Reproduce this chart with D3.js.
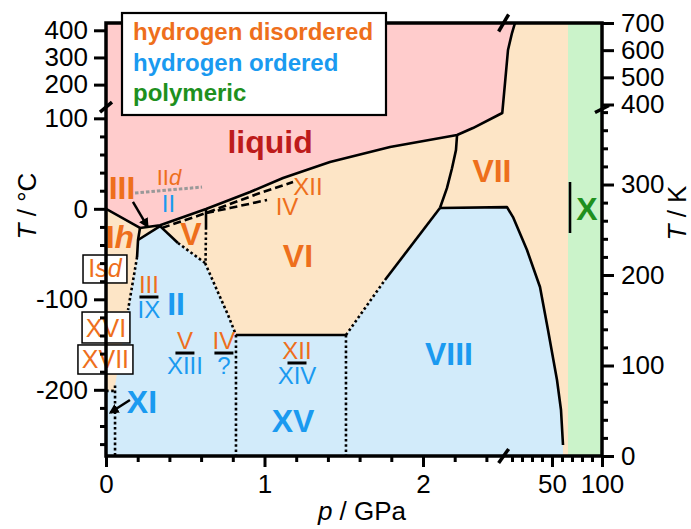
<!DOCTYPE html>
<html>
  <head>
    <title>Phase diagram of water ice</title>
    <script src="https://d3js.org/d3.v7.min.js" charset="utf-8"></script>
    <style>
      body { margin: 0; background: #fff; }
      text { font-family: "Liberation Sans", Arial, sans-serif; }
    </style>
  </head>
  <body>
    <script>
      // all boundaries in p (GPa), T (K)
      var liquidEdge = [[0,273.15],[0.2145,252],[0.341,255],[0.631,273],[0.909,291.7],[1.117,307.2],[1.413,324.9],
        [1.792,341.4],[2.215,354.7],[2.315,362.4],[2.5,379],[3,479],[6,600.6],[10,663],[13,700]];
      var orderedEdge = [[0,0],[0,72],[0.057,72],[0.057,78],[0.139,161.3],[0.196,219.9],[0.202,238.7],[0.341,254],
        [0.454,235.4],[0.625,213.3],[0.700,183.4],[0.770,155.8],[0.820,133.7],[1.514,133.7],[1.760,194.5],[2.107,274],
        [5,275],[11,264],[25,227.6],[38,186.7],[46,139.2],[55,84],[59,50.8],[61,12.2],[61,0]];
      var polymericP = [66, 100];

      var solidLines = [
        liquidEdge,
        [[0.2145,252],[0.202,238.7],[0.196,219.9]],
        [[0.202,238.7],[0.341,254]],
        [[0.341,254],[0.454,235.4]],
        [[0.631,273],[0.631,253]],
        [[0.82,133.7],[1.514,133.7]],
        [[1.760,194.5],[2.107,274]],
        [[2.107,274],[2.151,296],[2.183,318],[2.208,338],[2.215,354.7]],
        [[2.107,274],[5,275],[11,264],[25,227.6],[38,186.7],[46,139.2],[55,84],[59,50.8],[61,12.2]],
        [[68,302.8],[68,246.4]]
      ];
      var dottedLines = [
        [[0.196,219.9],[0.139,161.3]],
        [[0.454,235.4],[0.625,213.3]],
        [[0.631,253],[0.628,213.3]],
        [[0.625,213.3],[0.700,183.4],[0.770,155.8],[0.820,133.7]],
        [[0.82,133.7],[0.82,0]],
        [[1.514,133.7],[1.514,0]],
        [[1.514,133.7],[1.760,194.5]],
        [[0.057,78],[0.057,0]],
        [[0,72],[0.057,72]]
      ];
      var dashedLines = [
        [[0.353,252],[0.631,268.5],[0.782,278.5],[0.972,290.6],[1.18,302.8]],
        [[0.631,268.5],[0.782,274],[1.016,282.9]]
      ];
      var greyLine = [[0.183,290.6],[0.606,297.2]];

      var bigLabels = [
        {t: "liquid", p: 1.035, T: 334.8, k: "liquid"},
        {t: "VII", p: 2.435, T: 302.8, k: "dis"},
        {t: "VI", p: 1.211, T: 208.8, k: "dis"},
        {t: "V", p: 0.536, T: 233.1, k: "dis"},
        {t: "III", p: 0.101, T: 284, k: "dis"},
        {t: "II", p: 0.442, T: 155.8, k: "ord"},
        {t: "VIII", p: 2.164, T: 100.6, k: "ord"},
        {t: "XV", p: 1.18, T: 26.5, k: "ord"},
        {t: "XI", p: 0.227, T: 47.5, k: "ord"},
        {t: "X", p: 85, T: 260.8, k: "poly"}
      ];
      var smallLabels = [
        {t: "XII", p: 1.274, T: 288.4, k: "dis"},
        {t: "IV", p: 1.142, T: 266.3, k: "dis"},
        {t: "II", p: 0.394, T: 269.6, k: "ord"}
      ];
      var fractions = [
        {top: "III", bottom: "IX", p: 0.271, T: 175.7},
        {top: "V", bottom: "XIII", p: 0.498, T: 113.8},
        {top: "IV", bottom: "?", p: 0.744, T: 113.8},
        {top: "XII", bottom: "XIV", p: 1.205, T: 102.8}
      ];
      var boxed = [
        {parts: [["I", false], ["sd", true]], p0: -0.145, p1: 0.132, T0: 191.2, T1: 222.1},
        {parts: [["XVI", false]], p0: -0.151, p1: 0.151, T0: 124.9, T1: 159.1},
        {parts: [["XVII", false]], p0: -0.177, p1: 0.170, T0: 90.6, T1: 122.7}
      ];
      var arrows = [
        [[0.170, 280.7], [0.262, 253.5]],
        [[0.151, 61.9], [0.028, 48]]
      ];
      var legendItems = ["hydrogen disordered", "hydrogen ordered", "polymeric"];

      var cTicksMajor = [-200, -100, 0, 100, 200, 300, 400];
      var cTicksMinor = d3.range(-260, 100, 20).filter(function(v){ return v % 100 != 0; });
      var kTicksMajor = [0, 100, 200, 300, 400, 500, 600, 700];
      var kTicksMinor = d3.range(20, 400, 20).filter(function(v){ return v % 100 != 0; });
      var pLowMajor = [0, 1, 2], pLowMinor = [0.2, 0.4, 0.6, 0.8, 1.2, 1.4, 1.6, 1.8, 2.2, 2.4];
      var pHighMajor = [50, 100], pHighMinor = [10, 20, 30, 40, 60, 70, 80, 90];

      var col = {dis: "#EE6F1C", ord: "#1A9AF0", poly: "#1E901E", liquid: "#BD1B1B"};
      var fillCol = {tan: "#FDE5C6", pink: "#FFCCCC", blue: "#D2EBFA", green: "#CBF3CA"};

      var width = 691, height = 529;
      var svg = d3.select("body").append("svg").attr("width", width).attr("height", height);

      var xLow = d3.scaleLinear().domain([0, 2.5]).range([106, 502.25]);
      var xHigh = d3.scaleLinear().domain([3, 100]).range([505, 602]);
      function x(p) { return p <= 2.5 ? xLow(p) : xHigh(p); }
      var y = d3.scaleLinear().domain([0, 385, 400, 700]).range([456, 107.6, 104.5, 23]);
      var yC = d3.scaleLinear().domain(y.domain().map(function(k){ return k - 273.15; })).range(y.range());

      var L = xLow(0), R = xHigh(100), B = y(0), Tp = y(700);

      var line = d3.line().x(function(d){ return x(d[0]); }).y(function(d){ return y(d[1]); });

      var defs = svg.append("defs");
      defs.append("clipPath").attr("id", "plot").append("rect")
        .attr("x", L).attr("y", Tp).attr("width", R - L).attr("height", B - Tp);
      defs.append("marker").attr("id", "head").attr("viewBox", "0 0 10 10")
        .attr("refX", 8).attr("refY", 5).attr("markerWidth", 4).attr("markerHeight", 4)
        .attr("orient", "auto").append("path").attr("d", "M0,0L10,5L0,10z").attr("fill", "#000");

      var g = svg.append("g").attr("clip-path", "url(#plot)");

      // regions
      g.append("rect").attr("x", L).attr("y", Tp).attr("width", R - L).attr("height", B - Tp).attr("fill", fillCol.tan);
      g.append("path").attr("d", line(liquidEdge.concat([[0, 700]])) + "Z").attr("fill", fillCol.pink);
      g.append("path").attr("d", line(orderedEdge) + "Z").attr("fill", fillCol.blue);
      g.append("rect").attr("x", x(polymericP[0])).attr("y", Tp)
        .attr("width", x(polymericP[1]) - x(polymericP[0])).attr("height", B - Tp).attr("fill", fillCol.green);

      // boundaries
      g.selectAll("path.solid").data(solidLines).enter().append("path").attr("class", "solid")
        .attr("d", line).attr("fill", "none").attr("stroke", "#000").attr("stroke-width", 2.6)
        .attr("stroke-linejoin", "round");
      g.selectAll("path.dotted").data(dottedLines).enter().append("path").attr("class", "dotted")
        .attr("d", line).attr("fill", "none").attr("stroke", "#000").attr("stroke-width", 2.6)
        .attr("stroke-dasharray", "2.6,2.6");
      g.selectAll("path.dashed").data(dashedLines).enter().append("path").attr("class", "dashed")
        .attr("d", line).attr("fill", "none").attr("stroke", "#000").attr("stroke-width", 2.6)
        .attr("stroke-dasharray", "8,4");
      g.append("path").attr("d", line(greyLine)).attr("fill", "none").attr("stroke", "#999")
        .attr("stroke-width", 3).attr("stroke-dasharray", "3.5,2");

      function addText(parent, parts, px, py, size, weight, fill, anchor) {
        var t = parent.append("text").attr("x", px).attr("y", py).attr("font-size", size)
          .attr("font-weight", weight).attr("fill", fill).attr("text-anchor", anchor || "middle");
        parts.forEach(function(pt){ t.append("tspan").attr("font-style", pt[1] ? "italic" : "normal").text(pt[0]); });
        return t;
      }

      var lab = svg.append("g");
      bigLabels.forEach(function(d){
        addText(lab, [[d.t, false]], x(d.p), y(d.T), 32, "bold", col[d.k]);
      });
      addText(lab, [["I", false], ["h", true]], x(0.088), y(229.8), 32, "bold", col.dis);
      addText(lab, [["II", false], ["d", true]], x(0.397), y(299.4), 22, "normal", col.dis);
      smallLabels.forEach(function(d){
        addText(lab, [[d.t, false]], x(d.p), y(d.T), 24, "normal", col[d.k]);
      });
      fractions.forEach(function(d){
        var cx = x(d.p), cy = y(d.T);
        addText(lab, [[d.top, false]], cx, cy - 4, 24, "normal", col.dis);
        lab.append("line").attr("x1", cx - 9.5).attr("x2", cx + 9.5).attr("y1", cy).attr("y2", cy)
          .attr("stroke", "#000").attr("stroke-width", 3);
        addText(lab, [[d.bottom, false]], cx, cy + 21, 24, "normal", col.ord);
      });
      boxed.forEach(function(d){
        var x0 = x(d.p0), x1 = x(d.p1), y0 = y(d.T1), y1 = y(d.T0);
        lab.append("rect").attr("x", x0).attr("y", y0).attr("width", x1 - x0).attr("height", y1 - y0)
          .attr("fill", "#fff").attr("stroke", "#000").attr("stroke-width", 1.5);
        addText(lab, d.parts, (x0 + x1) / 2, y1 - 6, 25, "normal", col.dis);
      });
      arrows.forEach(function(a){
        lab.append("path").attr("d", line(a)).attr("stroke", "#000").attr("stroke-width", 2.5)
          .attr("fill", "none").attr("marker-end", "url(#head)");
      });

      // axes
      var plain = function(d){ return String(d); };
      function styleAxis(sel) {
        sel.select(".domain").remove();
        sel.selectAll(".tick line").attr("stroke", "#000").attr("stroke-width", 3);
        sel.selectAll(".tick text").attr("font-size", 26).attr("fill", "#000")
          .attr("font-family", "'Liberation Sans', Arial, sans-serif");
      }
      svg.append("g").attr("transform", "translate(" + L + ",0)")
        .call(d3.axisLeft(yC).tickValues(cTicksMajor).tickFormat(plain).tickSize(12).tickPadding(6)).call(styleAxis);
      svg.append("g").attr("transform", "translate(" + L + ",0)")
        .call(d3.axisLeft(yC).tickValues(cTicksMinor).tickSize(6).tickFormat("")).call(styleAxis);
      svg.append("g").attr("transform", "translate(" + R + ",0)")
        .call(d3.axisRight(y).tickValues(kTicksMajor).tickFormat(plain).tickSize(12).tickPadding(7)).call(styleAxis);
      svg.append("g").attr("transform", "translate(" + R + ",0)")
        .call(d3.axisRight(y).tickValues(kTicksMinor).tickSize(6).tickFormat("")).call(styleAxis);
      svg.append("g").attr("transform", "translate(0," + B + ")")
        .call(d3.axisBottom(xLow).tickValues(pLowMajor).tickFormat(plain).tickSize(11).tickPadding(8)).call(styleAxis);
      svg.append("g").attr("transform", "translate(0," + B + ")")
        .call(d3.axisBottom(xLow).tickValues(pLowMinor).tickSize(6).tickFormat("")).call(styleAxis);
      svg.append("g").attr("transform", "translate(0," + B + ")")
        .call(d3.axisBottom(xHigh).tickValues(pHighMajor).tickFormat(plain).tickSize(11).tickPadding(8)).call(styleAxis);
      svg.append("g").attr("transform", "translate(0," + B + ")")
        .call(d3.axisBottom(xHigh).tickValues(pHighMinor).tickSize(6).tickFormat("")).call(styleAxis);

      svg.append("rect").attr("x", L).attr("y", Tp).attr("width", R - L).attr("height", B - Tp)
        .attr("fill", "none").attr("stroke", "#000").attr("stroke-width", 3.5);

      // axis breaks
      var bx = (xLow(2.5) + xHigh(3)) / 2, by = (y(385) + y(400)) / 2;
      [[L, by + 1, -6, 5], [R, by + 3, -7, 3.5], [bx, Tp, -5, 8.5], [bx, B, -5, 7]].forEach(function(b){
        svg.append("line").attr("x1", b[0] + b[2]).attr("y1", b[1] + b[3])
          .attr("x2", b[0] - b[2]).attr("y2", b[1] - b[3]).attr("stroke", "#000").attr("stroke-width", 3.5);
      });

      // axis titles
      addText(svg, [["T", true], [" / °C", false]], 0, 0, 26, "normal", "#000")
        .attr("transform", "translate(36,206) rotate(-90)");
      addText(svg, [["T", true], [" / K", false]], 0, 0, 26, "normal", "#000")
        .attr("transform", "translate(686,213) rotate(-90)");
      addText(svg, [["p", true], [" / GPa", false]], 362, 520, 26, "normal", "#000");

      // legend
      var lg = svg.append("g").attr("transform", "translate(122,13)");
      lg.append("rect").attr("width", 264).attr("height", 102).attr("fill", "#fff")
        .attr("stroke", "#000").attr("stroke-width", 2.2);
      var legCol = [col.dis, col.ord, col.poly];
      legendItems.forEach(function(t, i){
        addText(lg, [[t, false]], 11, 27 + i * 30.5, 24, "bold", legCol[i], "start");
      });
    </script>
  </body>
</html>
